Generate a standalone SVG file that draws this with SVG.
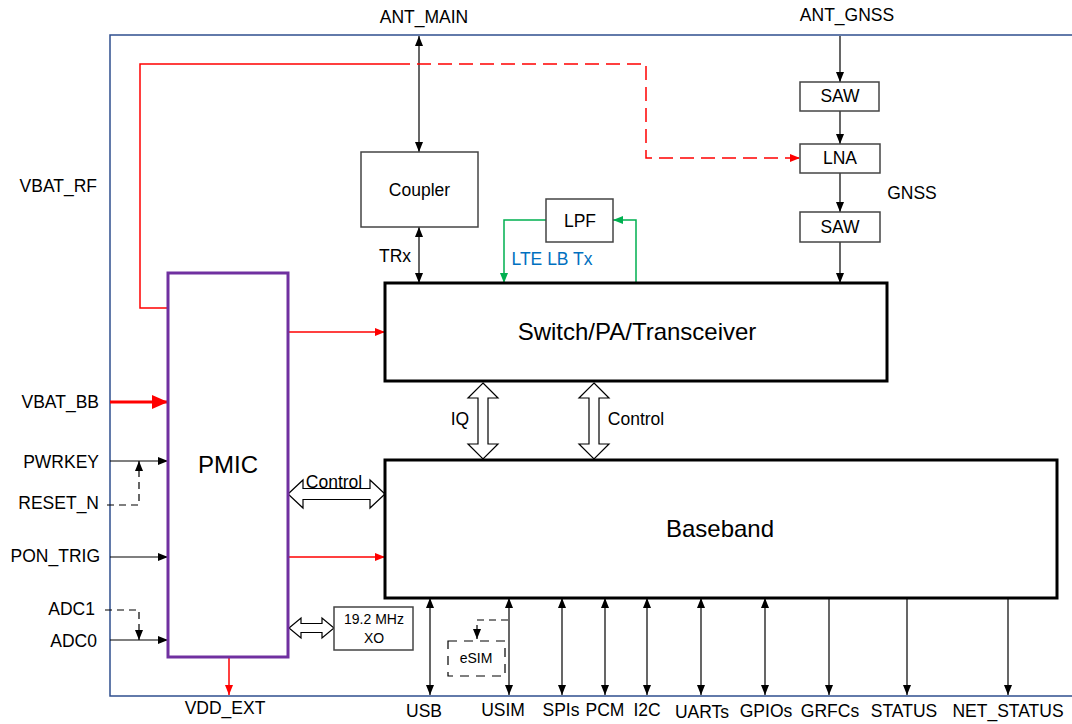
<svg xmlns="http://www.w3.org/2000/svg" width="1072" height="724" viewBox="0 0 1072 724">
<style>
text{font-family:"Liberation Sans",Arial,sans-serif;font-size:17.5px;fill:#000}
.c{text-anchor:middle}.e{text-anchor:end}
.big{font-size:24px}
.sm{font-size:14px}
.box{fill:#fff;stroke:#444;stroke-width:1.5}
.thick{fill:#fff;stroke:#000;stroke-width:3}
.ln{fill:none;stroke:#000;stroke-width:1.2}
.red{fill:none;stroke:#f00;stroke-width:1.5}
.grn{fill:none;stroke:#00b050;stroke-width:1.5}
.dash{stroke-dasharray:7,5}
.rdash{stroke-dasharray:14,7}
.hol{fill:#fff;stroke:#000;stroke-width:1.2}
</style>
<defs>
<marker id="ab" markerUnits="userSpaceOnUse" markerWidth="10" markerHeight="10" refX="10" refY="5" orient="auto-start-reverse"><path d="M0,1 L10,5 L0,9z" fill="#000"/></marker>
<marker id="ar" markerUnits="userSpaceOnUse" markerWidth="10" markerHeight="10" refX="10" refY="5" orient="auto-start-reverse"><path d="M0,1 L10,5 L0,9z" fill="#f00"/></marker>
<marker id="arb" markerUnits="userSpaceOnUse" markerWidth="16" markerHeight="14" refX="16" refY="7" orient="auto"><path d="M0,0 L16,7 L0,14z" fill="#f00"/></marker>
<marker id="ag" markerUnits="userSpaceOnUse" markerWidth="10" markerHeight="10" refX="10" refY="5" orient="auto"><path d="M0,1 L10,5 L0,9z" fill="#00b050"/></marker>
</defs>

<g id="frame"><path d="M1072,35 H110 V696 H1072" fill="none" stroke="#2f4f8f" stroke-width="1.5"/></g>

<g id="connectors">
<path class="ln" d="M419,36 V152" marker-start="url(#ab)" marker-end="url(#ab)"/>
<path class="ln" d="M419,227 V283" marker-start="url(#ab)" marker-end="url(#ab)"/>
<path class="ln" d="M840,36 V82" marker-end="url(#ab)"/>
<path class="ln" d="M840,111 V144" marker-end="url(#ab)"/>
<path class="ln" d="M840,173 V212" marker-end="url(#ab)"/>
<path class="ln" d="M840,242 V283" marker-end="url(#ab)"/>
<path class="red" d="M168,308 H140 V64 H396"/>
<path class="red rdash" d="M396,64 H646 V158 H800" marker-end="url(#ar)"/>
<path class="grn" d="M636,283 V220 H613" marker-end="url(#ag)"/>
<path class="grn" d="M546,220 H504 V283" marker-end="url(#ag)"/>
<path class="red" d="M288,332 H385" marker-end="url(#ar)"/>
<path class="red" d="M288,557 H385" marker-end="url(#ar)"/>
<path class="red" d="M229,657 V695" marker-end="url(#ar)"/>
<path d="M110,402 H168" fill="none" stroke="#f00" stroke-width="3" marker-end="url(#arb)"/>
<path class="ln" d="M110,461 H168" marker-end="url(#ab)"/>
<path class="ln dash" d="M107,505 H139 V461" marker-end="url(#ab)"/>
<path class="ln" d="M110,557 H168" marker-end="url(#ab)"/>
<path class="ln dash" d="M105,610 H139 V640" marker-end="url(#ab)"/>
<path class="ln" d="M110,640 H168" marker-end="url(#ab)"/>
<polygon class="hol" points="483,383 498,398 488,398 488,444 498,444 483,459 468,444 478,444 478,398 468,398"/>
<polygon class="hol" points="594,383 609,398 599,398 599,444 609,444 594,459 579,444 589,444 589,398 579,398"/>
<polygon class="hol" points="288,494 303,480 303,488.5 370,488.5 370,480 385,494 370,508 370,499.5 303,499.5 303,508"/>
<polygon class="hol" points="289,628 301,618 301,623.5 322,623.5 322,618 334,628 322,638 322,632.5 301,632.5 301,638"/>
<path class="ln" d="M430,598 V695" marker-start="url(#ab)" marker-end="url(#ab)"/>
<path class="ln" d="M509,598 V695" marker-start="url(#ab)" marker-end="url(#ab)"/>
<path class="ln" d="M562,598 V695" marker-start="url(#ab)" marker-end="url(#ab)"/>
<path class="ln" d="M605,598 V695" marker-start="url(#ab)" marker-end="url(#ab)"/>
<path class="ln" d="M647,598 V695" marker-start="url(#ab)" marker-end="url(#ab)"/>
<path class="ln" d="M701,598 V695" marker-start="url(#ab)" marker-end="url(#ab)"/>
<path class="ln" d="M765,598 V695" marker-start="url(#ab)" marker-end="url(#ab)"/>
<path class="ln" d="M829,598 V695" marker-end="url(#ab)"/>
<path class="ln" d="M907,598 V695" marker-end="url(#ab)"/>
<path class="ln" d="M1008,598 V695" marker-end="url(#ab)"/>
<path class="ln dash" d="M508,620 H477 V639" marker-end="url(#ab)"/>
</g>

<g id="coupler"><rect class="box" x="361" y="152" width="117" height="75"/><text class="c" x="419.5" y="196">Coupler</text></g>
<g id="saw1"><rect class="box" x="800" y="82" width="79" height="29"/><text class="c" x="840" y="102">SAW</text></g>
<g id="lna"><rect class="box" x="800" y="144" width="80" height="29"/><text class="c" x="840" y="164">LNA</text></g>
<g id="saw2"><rect class="box" x="800" y="212" width="80" height="30"/><text class="c" x="840" y="233">SAW</text></g>
<g id="lpf"><rect class="box" x="546" y="199" width="67" height="43"/><text class="c" x="580" y="227">LPF</text></g>
<g id="switch"><rect class="thick" x="385" y="283" width="502" height="98"/><text class="c big" x="637" y="340">Switch/PA/Transceiver</text></g>
<g id="baseband"><rect class="thick" x="385" y="460" width="672" height="138"/><text class="c big" x="720" y="537">Baseband</text></g>
<g id="pmic"><rect x="168" y="273" width="120" height="384" fill="#fff" stroke="#7030a0" stroke-width="3"/><text class="c big" x="228" y="473">PMIC</text></g>
<g id="xo"><rect class="box" x="334" y="607" width="79" height="43"/><text class="c sm" x="374" y="624">19.2 MHz</text><text class="c sm" x="374" y="643">XO</text></g>
<g id="esim"><rect x="448" y="641" width="57" height="35" fill="#fff" stroke="#000" stroke-width="1.2" stroke-dasharray="9,7"/><text class="c sm" x="476" y="663">eSIM</text></g>

<g id="labels">
<text class="c" x="424" y="23">ANT_MAIN</text>
<text class="c" x="847" y="21">ANT_GNSS</text>
<text class="e" x="97" y="192">VBAT_RF</text>
<text class="e" x="99" y="408">VBAT_BB</text>
<text class="e" x="99" y="468">PWRKEY</text>
<text class="e" x="99" y="509">RESET_N</text>
<text class="e" x="100" y="562">PON_TRIG</text>
<text class="e" x="95" y="615">ADC1</text>
<text class="e" x="97" y="647">ADC0</text>
<text class="c" x="225" y="714">VDD_EXT</text>
<text class="c" x="395" y="262">TRx</text>
<text class="c" x="912" y="199">GNSS</text>
<text class="c" x="552" y="265" style="fill:#0070c0">LTE LB Tx</text>
<text class="c" x="460" y="425">IQ</text>
<text class="c" x="636" y="425">Control</text>
<text class="c" x="334" y="488">Control</text>
<text class="c" x="424" y="717">USB</text>
<text class="c" x="503" y="716">USIM</text>
<text class="c" x="561" y="716">SPIs</text>
<text class="c" x="605" y="716">PCM</text>
<text class="c" x="647" y="716">I2C</text>
<text class="c" x="702" y="718">UARTs</text>
<text class="c" x="766" y="717">GPIOs</text>
<text class="c" x="830" y="717">GRFCs</text>
<text class="c" x="904" y="717">STATUS</text>
<text class="c" x="1008" y="717">NET_STATUS</text>
</g>
</svg>
